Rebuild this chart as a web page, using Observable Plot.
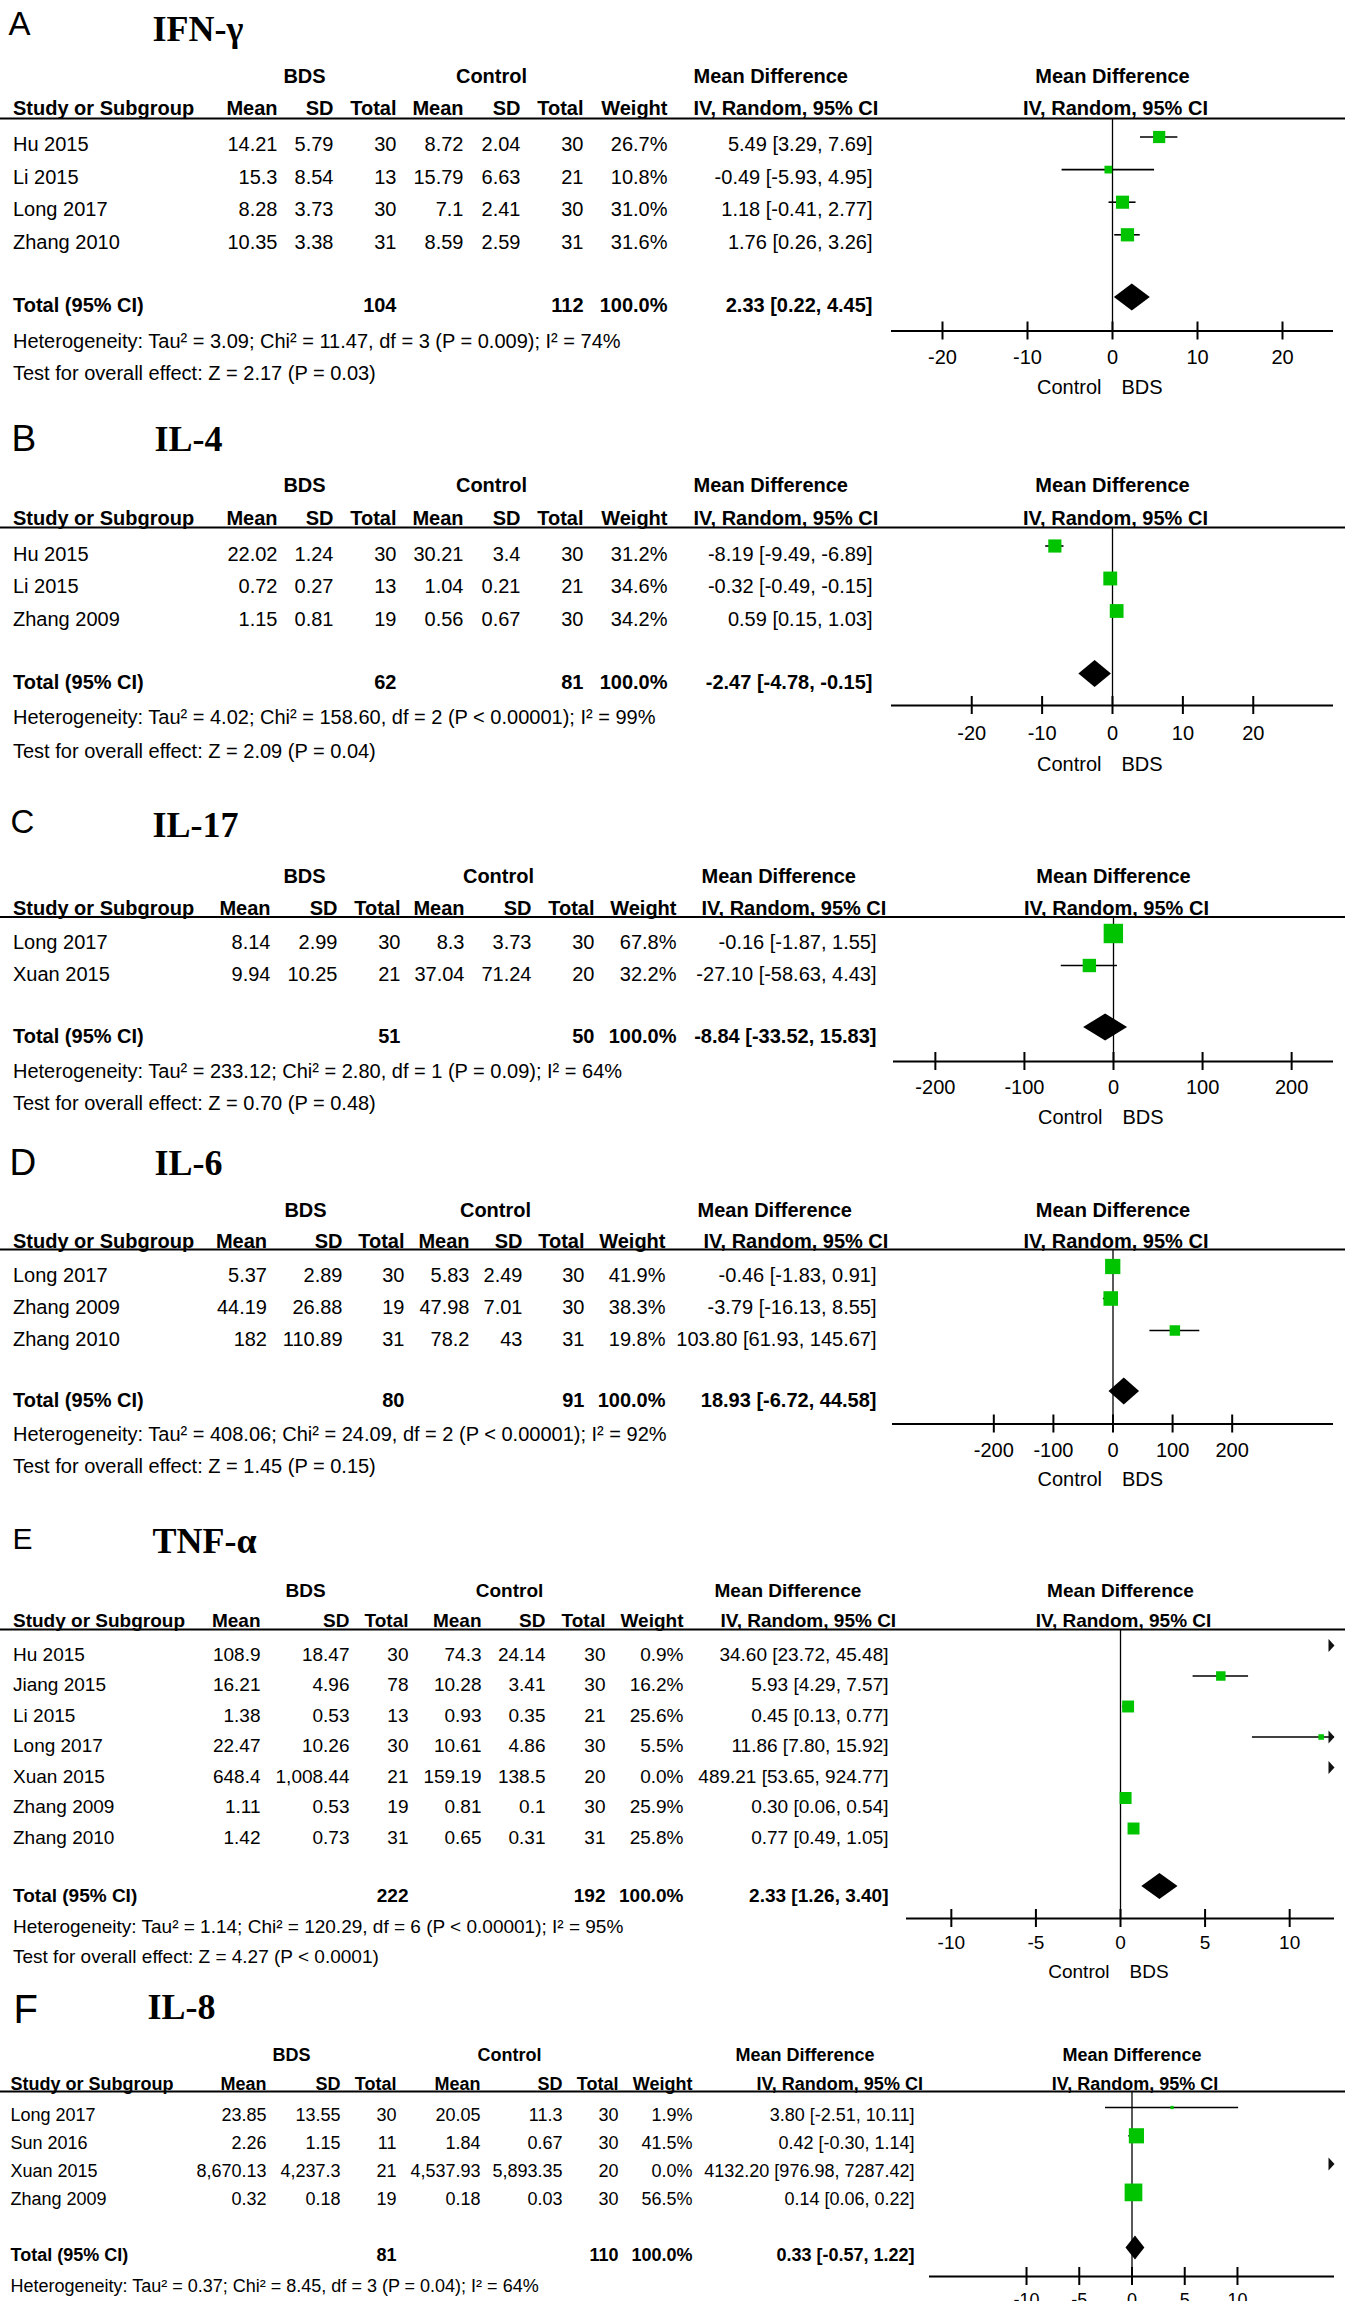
<!DOCTYPE html>
<html>
<head>
<meta charset="utf-8">
<script src="https://cdn.jsdelivr.net/npm/d3@7"></script>
<script src="https://cdn.jsdelivr.net/npm/@observablehq/plot@0.6"></script>
<style>
html, body { margin: 0; padding: 0; background: #fff; }
#root { position: relative; width: 1345px; height: 2301px; overflow: hidden; background: #fff; }
.panel { position: absolute; left: 0; width: 1345px; }
.panel svg { position: absolute; left: 0; top: 0; background: transparent; max-width: none; }
</style>
</head>
<body>
<div id="root"></div>
<script>
// ---------------- DATA ----------------
// A: IFN-γ
const ifnStudy   = ["Hu 2015", "Li 2015", "Long 2017", "Zhang 2010"];
const ifnBdsMean = [14.21, 15.3, 8.28, 10.35];
const ifnBdsSD   = [5.79, 8.54, 3.73, 3.38];
const ifnBdsN    = [30, 13, 30, 31];
const ifnCtlMean = [8.72, 15.79, 7.1, 8.59];
const ifnCtlSD   = [2.04, 6.63, 2.41, 2.59];
const ifnCtlN    = [30, 21, 30, 31];
const ifnWeight  = [26.7, 10.8, 31.0, 31.6];
const ifnMD      = [5.49, -0.49, 1.18, 1.76];
const ifnLo      = [3.29, -5.93, -0.41, 0.26];
const ifnHi      = [7.69, 4.95, 2.77, 3.26];
const ifnTotal   = [104, 112, 100.0, 2.33, 0.22, 4.45]; // BDS N, Control N, weight, MD, lo, hi
const ifnHet     = "Heterogeneity: Tau² = 3.09; Chi² = 11.47, df = 3 (P = 0.009); I² = 74%";
const ifnTest    = "Test for overall effect: Z = 2.17 (P = 0.03)";
const ifnTicks   = [-20, -10, 0, 10, 20];

// B: IL-4
const il4Study   = ["Hu 2015", "Li 2015", "Zhang 2009"];
const il4BdsMean = [22.02, 0.72, 1.15];
const il4BdsSD   = [1.24, 0.27, 0.81];
const il4BdsN    = [30, 13, 19];
const il4CtlMean = [30.21, 1.04, 0.56];
const il4CtlSD   = [3.4, 0.21, 0.67];
const il4CtlN    = [30, 21, 30];
const il4Weight  = [31.2, 34.6, 34.2];
const il4MD      = [-8.19, -0.32, 0.59];
const il4Lo      = [-9.49, -0.49, 0.15];
const il4Hi      = [-6.89, -0.15, 1.03];
const il4Total   = [62, 81, 100.0, -2.47, -4.78, -0.15];
const il4Het     = "Heterogeneity: Tau² = 4.02; Chi² = 158.60, df = 2 (P < 0.00001); I² = 99%";
const il4Test    = "Test for overall effect: Z = 2.09 (P = 0.04)";
const il4Ticks   = [-20, -10, 0, 10, 20];

// C: IL-17
const il17Study   = ["Long 2017", "Xuan 2015"];
const il17BdsMean = [8.14, 9.94];
const il17BdsSD   = [2.99, 10.25];
const il17BdsN    = [30, 21];
const il17CtlMean = [8.3, 37.04];
const il17CtlSD   = [3.73, 71.24];
const il17CtlN    = [30, 20];
const il17Weight  = [67.8, 32.2];
const il17MD      = [-0.16, -27.10];
const il17Lo      = [-1.87, -58.63];
const il17Hi      = [1.55, 4.43];
const il17Total   = [51, 50, 100.0, -8.84, -33.52, 15.83];
const il17Het     = "Heterogeneity: Tau² = 233.12; Chi² = 2.80, df = 1 (P = 0.09); I² = 64%";
const il17Test    = "Test for overall effect: Z = 0.70 (P = 0.48)";
const il17Ticks   = [-200, -100, 0, 100, 200];

// D: IL-6
const il6Study   = ["Long 2017", "Zhang 2009", "Zhang 2010"];
const il6BdsMean = [5.37, 44.19, 182];
const il6BdsSD   = [2.89, 26.88, 110.89];
const il6BdsN    = [30, 19, 31];
const il6CtlMean = [5.83, 47.98, 78.2];
const il6CtlSD   = [2.49, 7.01, 43];
const il6CtlN    = [30, 30, 31];
const il6Weight  = [41.9, 38.3, 19.8];
const il6MD      = [-0.46, -3.79, 103.80];
const il6Lo      = [-1.83, -16.13, 61.93];
const il6Hi      = [0.91, 8.55, 145.67];
const il6Total   = [80, 91, 100.0, 18.93, -6.72, 44.58];
const il6Het     = "Heterogeneity: Tau² = 408.06; Chi² = 24.09, df = 2 (P < 0.00001); I² = 92%";
const il6Test    = "Test for overall effect: Z = 1.45 (P = 0.15)";
const il6Ticks   = [-200, -100, 0, 100, 200];

// E: TNF-α
const tnfStudy   = ["Hu 2015", "Jiang 2015", "Li 2015", "Long 2017", "Xuan 2015", "Zhang 2009", "Zhang 2010"];
const tnfBdsMean = [108.9, 16.21, 1.38, 22.47, 648.4, 1.11, 1.42];
const tnfBdsSD   = [18.47, 4.96, 0.53, 10.26, 1008.44, 0.53, 0.73];
const tnfBdsN    = [30, 78, 13, 30, 21, 19, 31];
const tnfCtlMean = [74.3, 10.28, 0.93, 10.61, 159.19, 0.81, 0.65];
const tnfCtlSD   = [24.14, 3.41, 0.35, 4.86, 138.5, 0.1, 0.31];
const tnfCtlN    = [30, 30, 21, 30, 20, 30, 31];
const tnfWeight  = [0.9, 16.2, 25.6, 5.5, 0.0, 25.9, 25.8];
const tnfMD      = [34.60, 5.93, 0.45, 11.86, 489.21, 0.30, 0.77];
const tnfLo      = [23.72, 4.29, 0.13, 7.80, 53.65, 0.06, 0.49];
const tnfHi      = [45.48, 7.57, 0.77, 15.92, 924.77, 0.54, 1.05];
const tnfTotal   = [222, 192, 100.0, 2.33, 1.26, 3.40];
const tnfHet     = "Heterogeneity: Tau² = 1.14; Chi² = 120.29, df = 6 (P < 0.00001); I² = 95%";
const tnfTest    = "Test for overall effect: Z = 4.27 (P < 0.0001)";
const tnfTicks   = [-10, -5, 0, 5, 10];

// F: IL-8
const il8Study   = ["Long 2017", "Sun 2016", "Xuan 2015", "Zhang 2009"];
const il8BdsMean = [23.85, 2.26, 8670.13, 0.32];
const il8BdsSD   = [13.55, 1.15, 4237.3, 0.18];
const il8BdsN    = [30, 11, 21, 19];
const il8CtlMean = [20.05, 1.84, 4537.93, 0.18];
const il8CtlSD   = [11.3, 0.67, 5893.35, 0.03];
const il8CtlN    = [30, 30, 20, 30];
const il8Weight  = [1.9, 41.5, 0.0, 56.5];
const il8MD      = [3.80, 0.42, 4132.20, 0.14];
const il8Lo      = [-2.51, -0.30, 976.98, 0.06];
const il8Hi      = [10.11, 1.14, 7287.42, 0.22];
const il8Total   = [81, 110, 100.0, 0.33, -0.57, 1.22];
const il8Het     = "Heterogeneity: Tau² = 0.37; Chi² = 8.45, df = 3 (P = 0.04); I² = 64%";
const il8Test    = null;
const il8Ticks   = [-10, -5, 0, 5, 10];

const panelLetters = ["A", "B", "C", "D", "E", "F"];
const panelTitles  = ["IFN-γ", "IL-4", "IL-17", "IL-6", "TNF-α", "IL-8"];

// ---------------- LAYOUT (pixels, not data) ----------------
const SANS = "'Liberation Sans', Arial, Helvetica, sans-serif";
const SERIF = "'Liberation Serif', 'Times New Roman', serif";
const GREEN = "#00c400";

const colsAB = {study: 12.5, mean: 277, sd: 333, n: 396, cmean: 463, csd: 520, cn: 583, w: 667, bds: 304, ctl: 491, md1: 693, iv1: 693, ci: 872};
const LAYOUT = [
  {top: 0, h: 409, fs: 20, lSize: 33, lX: 8, lY: 34, tX: 152, tY: 40, h1: 82, h2: 114.5, line: 118, row0: 150.5, step: 32.6,
   total: 311, het: 347, test: 379, axis: 330.5, tick: 363, cb: 393, mk: 14, dh: 13.5, cols: colsAB, axisL: 891, axisR: 1333, D: 26},
  {top: 409, h: 390, fs: 20, lSize: 37, lX: 11, lY: 41.5, tX: 154, tY: 41.5, h1: 82.6, h2: 115.6, line: 118, row0: 151, step: 32.5,
   total: 279, het: 314, test: 348, axis: 296, tick: 330, cb: 361, mk: 14.5, dh: 13.5, cols: colsAB, axisL: 891, axisR: 1333, D: 31.4},
  {top: 799, h: 332, fs: 20, lSize: 33, lX: 10, lY: 33, tX: 152, tY: 37, h1: 83.5, h2: 115, line: 117.5, row0: 149, step: 32,
   total: 243, het: 278, test: 310, axis: 262, tick: 294, cb: 324, mk: 15, dh: 13.5,
   cols: {study: 12.5, mean: 270, sd: 337, n: 400, cmean: 464, csd: 531, cn: 594, w: 676, bds: 304, ctl: 498, md1: 701, iv1: 701, ci: 876},
   axisL: 893, axisR: 1333, D: 247},
  {top: 1131, h: 380, fs: 20, lSize: 37, lX: 9, lY: 43, tX: 154, tY: 43, h1: 85, h2: 116, line: 118, row0: 150, step: 32,
   total: 275, het: 309, test: 341, axis: 292.5, tick: 325, cb: 354, mk: 15, dh: 13.5,
   cols: {study: 12.5, mean: 266.5, sd: 342, n: 404, cmean: 469, csd: 522, cn: 584, w: 665, bds: 305, ctl: 495, md1: 697, iv1: 703, ci: 876},
   axisL: 892, axisR: 1333, D: 370},
  {top: 1511, h: 485, fs: 19, lSize: 30, lX: 12, lY: 37, tX: 152, tY: 41, h1: 85, h2: 115, line: 118, row0: 149, step: 30.5,
   total: 390, het: 421, test: 451, axis: 407, tick: 437, cb: 466, mk: 15, dh: 13,
   cols: {study: 12.5, mean: 260, sd: 349, n: 408, cmean: 481, csd: 545, cn: 605, w: 683, bds: 305, ctl: 509, md1: 714, iv1: 720, ci: 888},
   axisL: 906, axisR: 1334, D: 12.65},
  {top: 1973, h: 340, fs: 18, lSize: 40, lX: 13, lY: 49, tX: 147, tY: 45, h1: 87, h2: 116, line: 118, row0: 147, step: 28.3,
   total: 287.5, het: 318, test: 348, axis: 303, tick: 332, cb: 360, mk: 13, dh: 12,
   cols: {study: 10, mean: 266, sd: 340, n: 396, cmean: 480, csd: 562, cn: 618, w: 692, bds: 291, ctl: 509, md1: 735, iv1: 756, ci: 914},
   axisL: 929, axisR: 1334, D: 19.2}
];

// ---------------- BUILD ----------------
const PANEL_DATA = [
  {study: ifnStudy, bm: ifnBdsMean, bs: ifnBdsSD, bn: ifnBdsN, cm: ifnCtlMean, cs: ifnCtlSD, cn: ifnCtlN, w: ifnWeight, md: ifnMD, lo: ifnLo, hi: ifnHi, total: ifnTotal, het: ifnHet, test: ifnTest, ticks: ifnTicks},
  {study: il4Study, bm: il4BdsMean, bs: il4BdsSD, bn: il4BdsN, cm: il4CtlMean, cs: il4CtlSD, cn: il4CtlN, w: il4Weight, md: il4MD, lo: il4Lo, hi: il4Hi, total: il4Total, het: il4Het, test: il4Test, ticks: il4Ticks},
  {study: il17Study, bm: il17BdsMean, bs: il17BdsSD, bn: il17BdsN, cm: il17CtlMean, cs: il17CtlSD, cn: il17CtlN, w: il17Weight, md: il17MD, lo: il17Lo, hi: il17Hi, total: il17Total, het: il17Het, test: il17Test, ticks: il17Ticks},
  {study: il6Study, bm: il6BdsMean, bs: il6BdsSD, bn: il6BdsN, cm: il6CtlMean, cs: il6CtlSD, cn: il6CtlN, w: il6Weight, md: il6MD, lo: il6Lo, hi: il6Hi, total: il6Total, het: il6Het, test: il6Test, ticks: il6Ticks},
  {study: tnfStudy, bm: tnfBdsMean, bs: tnfBdsSD, bn: tnfBdsN, cm: tnfCtlMean, cs: tnfCtlSD, cn: tnfCtlN, w: tnfWeight, md: tnfMD, lo: tnfLo, hi: tnfHi, total: tnfTotal, het: tnfHet, test: tnfTest, ticks: tnfTicks},
  {study: il8Study, bm: il8BdsMean, bs: il8BdsSD, bn: il8BdsN, cm: il8CtlMean, cs: il8CtlSD, cn: il8CtlN, w: il8Weight, md: il8MD, lo: il8Lo, hi: il8Hi, total: il8Total, het: il8Het, test: il8Test, ticks: il8Ticks}
];

const fmtNum = d3.format(",");
const ciText = (m, l, h) => `${m.toFixed(2)} [${l.toFixed(2)}, ${h.toFixed(2)}]`;

// right-pointing arrowhead whose tip sits at the anchor point
const arrowSymbol = {
  draw(ctx) {
    ctx.moveTo(0, 0);
    ctx.lineTo(-6, -6.5);
    ctx.lineTo(-6, 6.5);
    ctx.closePath();
  }
};

function textMarks(items) {
  const groups = d3.groups(items, d => [d.anchor, d.weight, d.family, d.size].join("|"));
  return groups.map(([, arr]) => Plot.text(arr, {
    x: "x", y: "y", text: "text",
    textAnchor: arr[0].anchor, fontWeight: arr[0].weight, fontFamily: arr[0].family, fontSize: arr[0].size,
    lineAnchor: "bottom", fill: "#000"
  }));
}

const root = document.getElementById("root");

PANEL_DATA.forEach((d, p) => {
  const L = LAYOUT[p], c = L.cols, fs = L.fs;
  const div = document.createElement("div");
  div.className = "panel";
  div.style.top = L.top + "px";
  div.style.height = L.h + "px";
  root.appendChild(div);

  // ---- table part ----
  const items = [];
  const add = (x, y, text, anchor = "start", weight = "normal", size = fs, family = SANS) =>
    items.push({x, y, text: String(text), anchor, weight, size, family});

  add(L.lX, L.lY, panelLetters[p], "start", "normal", L.lSize);
  add(L.tX, L.tY, panelTitles[p], "start", "bold", 36, SERIF);
  add(c.bds, L.h1, "BDS", "middle", "bold");
  add(c.ctl, L.h1, "Control", "middle", "bold");
  add(c.md1, L.h1, "Mean Difference", "start", "bold");
  add(c.study, L.h2, "Study or Subgroup", "start", "bold");
  [["Mean", c.mean], ["SD", c.sd], ["Total", c.n], ["Mean", c.cmean], ["SD", c.csd], ["Total", c.cn], ["Weight", c.w]]
    .forEach(([t, x]) => add(x, L.h2, t, "end", "bold"));
  add(c.iv1, L.h2, "IV, Random, 95% CI", "start", "bold");

  d.study.forEach((s, i) => {
    const y = L.row0 + i * L.step;
    add(c.study, y, s);
    add(c.mean, y, fmtNum(d.bm[i]), "end");
    add(c.sd, y, fmtNum(d.bs[i]), "end");
    add(c.n, y, d.bn[i], "end");
    add(c.cmean, y, fmtNum(d.cm[i]), "end");
    add(c.csd, y, fmtNum(d.cs[i]), "end");
    add(c.cn, y, d.cn[i], "end");
    add(c.w, y, d.w[i].toFixed(1) + "%", "end");
    add(c.ci, y, ciText(d.md[i], d.lo[i], d.hi[i]), "end");
  });
  const T = d.total;
  add(c.study, L.total, "Total (95% CI)", "start", "bold");
  add(c.n, L.total, T[0], "end", "bold");
  add(c.cn, L.total, T[1], "end", "bold");
  add(c.w, L.total, T[2].toFixed(1) + "%", "end", "bold");
  add(c.ci, L.total, ciText(T[3], T[4], T[5]), "end", "bold");
  add(c.study, L.het, d.het);
  if (d.test) add(c.study, L.test, d.test);

  const table = Plot.plot({
    width: 1345, height: L.h, margin: 0,
    x: {type: "identity", axis: null},
    y: {type: "identity", axis: null},
    style: {background: "transparent"},
    marks: [
      Plot.ruleY([{y: L.line, x1: 0, x2: 1345}], {y: "y", x1: "x1", x2: "x2", stroke: "#000", strokeWidth: 2}),
      ...textMarks(items)
    ]
  });
  div.appendChild(table);

  // ---- forest part ----
  const rows = d.study.map((s, i) => ({
    study: s, w: d.w[i], md: d.md[i], lo: d.lo[i], hi: d.hi[i],
    cy: L.row0 + i * L.step - L.mk
  }));
  const over = rows.filter(r => r.hi > L.D);
  const cyT = L.total - L.mk;
  const diamond = [
    {y: cyT - L.dh, x1: T[3], x2: T[3]},
    {y: cyT, x1: T[4], x2: T[5]},
    {y: cyT + L.dh, x1: T[3], x2: T[3]}
  ];
  const lab = {fontFamily: SANS, fontSize: fs, lineAnchor: "bottom", fill: "#000"};

  const forest = Plot.plot({
    width: 1345, height: L.h,
    marginLeft: L.axisL, marginRight: 1345 - L.axisR, marginTop: 0, marginBottom: 0,
    x: {domain: [-L.D, L.D], axis: null},
    y: {type: "identity", axis: null},
    r: {type: "sqrt", domain: [0, 100], range: [0, 13.3]},
    style: {background: "transparent"},
    marks: [
      Plot.ruleX([0], {y1: L.line, y2: L.axis, stroke: "#000", strokeWidth: 1.3}),
      Plot.ruleY([L.axis], {stroke: "#000", strokeWidth: 2}),
      Plot.ruleX(d.ticks, {x: t => t, y1: L.axis - 9, y2: L.axis + 9, stroke: "#000", strokeWidth: 2}),
      Plot.text(d.ticks, {x: t => t, y: L.tick, text: t => String(t), textAnchor: "middle", ...lab}),
      Plot.text(["Control"], {x: () => 0, y: L.cb, dx: -11, text: t => t, textAnchor: "end", ...lab}),
      Plot.text(["BDS"], {x: () => 0, y: L.cb, dx: 9, text: t => t, textAnchor: "start", ...lab}),
      Plot.text(["Mean Difference"], {x: () => 0, y: L.h1, text: t => t, textAnchor: "middle", fontWeight: "bold", ...lab}),
      Plot.text(["IV, Random, 95% CI"], {x: () => 0, y: L.h2, dx: 3, text: t => t, textAnchor: "middle", fontWeight: "bold", ...lab}),
      Plot.ruleY(rows, {x1: "lo", x2: "hi", y: "cy", stroke: "#000", strokeWidth: 1.6, clip: true}),
      Plot.dot(rows, {x: "md", y: "cy", r: "w", symbol: "square", fill: GREEN, stroke: "none", clip: true}),
      Plot.dot(over, {x: () => L.D, y: "cy", r: 5, symbol: arrowSymbol, fill: "#111", stroke: "none"}),
      Plot.areaX(diamond, {y: "y", x1: "x1", x2: "x2", fill: "#000"})
    ]
  });
  div.appendChild(forest);
});
</script>
</body>
</html>
